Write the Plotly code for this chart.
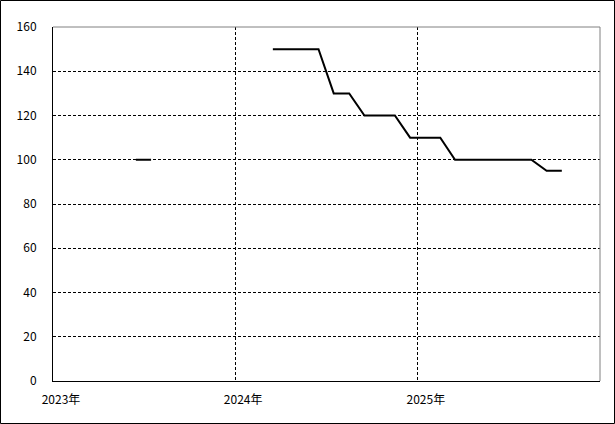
import plotly.graph_objects as go

months = ["2023-06", "2023-07", "2023-08", "2023-09", "2023-10", "2023-11", "2023-12",
          "2024-01", "2024-02", "2024-03", "2024-04", "2024-05", "2024-06", "2024-07",
          "2024-08", "2024-09", "2024-10", "2024-11", "2024-12", "2025-01", "2025-02",
          "2025-03", "2025-04", "2025-05", "2025-06", "2025-07", "2025-08", "2025-09",
          "2025-10"]
values = [100, 100, None, None, None, None, None,
          None, None, 150, 150, 150, 150, 130,
          130, 120, 120, 120, 110, 110, 110,
          100, 100, 100, 100, 100, 100, 95,
          95]
year_ticks = ["2023-01-01", "2024-01-01", "2025-01-01"]
year_labels = ["2023年", "2024年", "2025年"]
y_ticks = [0, 20, 40, 60, 80, 100, 120, 140, 160]

FONT = "Noto Sans CJK JP"

fig = go.Figure()
fig.add_trace(go.Scatter(
    x=months, y=values, mode="lines",
    xperiod="M1", xperiodalignment="middle",
    line=dict(color="black", width=2),
    connectgaps=False, hoverinfo="skip", showlegend=False,
))

W, H = 615, 424
L, R, T, B = 53, 15, 27, 43
pw, ph = W - L - R, H - T - B

fig.update_layout(
    width=W, height=H,
    margin=dict(l=L, r=R, t=T, b=B, pad=0),
    paper_bgcolor="white", plot_bgcolor="white",
    font=dict(family=FONT, size=12, color="black"),
    xaxis=dict(
        type="date", range=["2023-01-01", "2026-01-01"],
        tickmode="array", tickvals=year_ticks, ticktext=year_labels,
        showgrid=True, gridcolor="black", griddash="3px,2px", gridwidth=1,
        showline=True, linecolor="black", linewidth=1,
        ticks="", zeroline=False, ticklabelshift=8, ticklabelstandoff=8,
    ),
    yaxis=dict(
        range=[0, 160], tickmode="array", tickvals=y_ticks,
        showgrid=True, gridcolor="black", griddash="3px,2px", gridwidth=1,
        showline=True, linecolor="black", linewidth=1,
        ticks="", zeroline=False, ticklabelstandoff=13,
    ),
    shapes=[
        dict(type="line", xref="paper", yref="paper", x0=0, x1=1, y0=1, y1=1,
             line=dict(color="#808080", width=1), layer="above"),
        dict(type="line", xref="paper", yref="paper", x0=1, x1=1, y0=0, y1=1,
             line=dict(color="#808080", width=1), layer="above"),
        dict(type="rect", xref="paper", yref="paper",
             x0=(0.5 - L) / pw, x1=(W - 0.5 - L) / pw,
             y0=(H - B - (H - 0.5)) / ph, y1=(H - B - 0.5) / ph,
             line=dict(color="black", width=1), layer="above"),
    ],
)

fig.write_html(
    "out.html",
    config={"displayModeBar": False},
    post_script="document.body.style.margin='0';document.body.style.overflow='hidden';",
)
